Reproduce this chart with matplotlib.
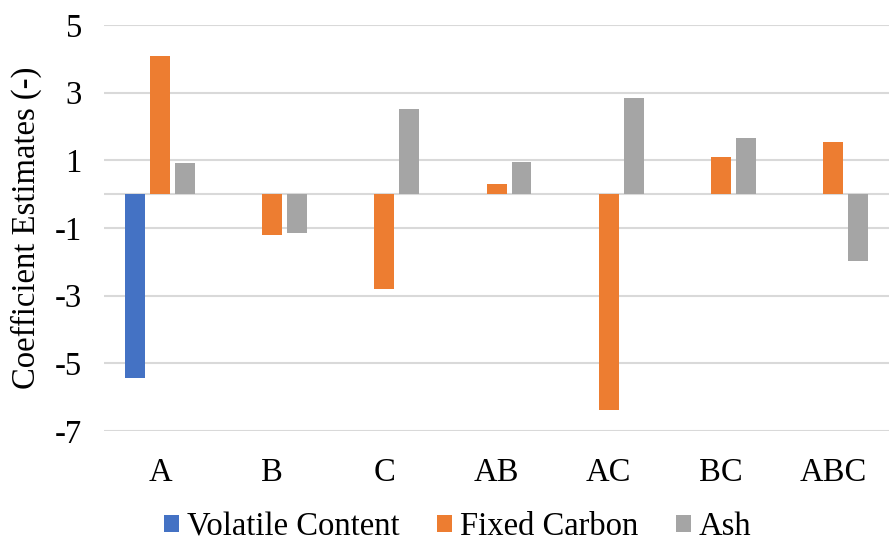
import matplotlib
matplotlib.use("Agg")
import matplotlib.pyplot as plt
import numpy as np

categories = ["A", "B", "C", "AB", "AC", "BC", "ABC"]
volatile = [-5.43, 0, 0, 0, 0, 0, 0]
fixed_carbon = [4.08, -1.21, -2.81, 0.30, -6.38, 1.09, 1.54]
ash = [0.93, -1.16, 2.51, 0.95, 2.83, 1.67, -1.98]

plt.rcParams['font.family'] = ['Liberation Serif', 'DejaVu Serif']
plt.rcParams['axes.unicode_minus'] = False
fs = 23.5

fig = plt.figure(figsize=(8.9, 5.42), dpi=100)
ax = fig.add_axes([0.117, 0.205, 0.882, 0.749])

x = np.arange(len(categories))
w = 0.178
step = 0.222
ax.bar(x - step, volatile, w, color="#4472C4", label="Volatile Content", zorder=3)
ax.bar(x, fixed_carbon, w, color="#ED7D31", label="Fixed Carbon", zorder=3)
ax.bar(x + step, ash, w, color="#A5A5A5", label="Ash", zorder=3)

ax.set_xlim(-0.5, len(categories) - 0.5)
ax.set_ylim(-7, 5)
ax.set_yticks([-7, -5, -3, -1, 1, 3, 5])
ax.axhline(0, color="#d9d9d9", lw=1.5, zorder=2)
ax.grid(axis="y", color="#d9d9d9", lw=1.5, zorder=0)
ax.set_axisbelow(True)
for s in ax.spines.values():
    s.set_visible(False)
ax.tick_params(axis="both", length=0, labelsize=fs)
ax.tick_params(axis="y", pad=16)
ax.tick_params(axis="x", pad=19)
ax.set_xticks(x)
ax.set_xticklabels(categories)
ax.set_ylabel("Coefficient Estimates (-)", fontsize=fs, labelpad=9)

fig.legend(loc="center", bbox_to_anchor=(0.514, 0.028), ncol=3, frameon=False,
           fontsize=fs, handlelength=0.46, handleheight=0.46, handletextpad=0.24,
           columnspacing=1.15, borderpad=0)

fig.savefig("out.png", dpi=100)
